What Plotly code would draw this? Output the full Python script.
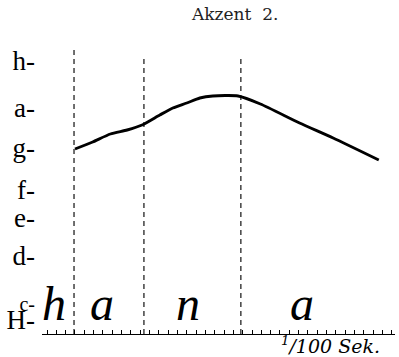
import plotly.graph_objects as go

# Zeit in 1/100 Sek., Tonhöhe als Lage auf der Notenskala
time = [3.0, 4.9, 6.8, 8.6, 10.2, 12.1, 13.5, 15.0, 16.4, 17.8, 20.5, 22.9, 27.1, 30.7, 35.6]
pitch = [185, 192, 200, 204, 209, 219, 226, 231, 236, 238, 238, 230, 211, 196, 174]

# Lautgrenzen (gestrichelt) und ihre obere Kante
boundaries = [2.9, 10.4, 20.8]
boundary_top = [287, 279, 276]

# Tonstufen an der y-Achse
note_names = ["H-", "c-", "d-", "e-", "f-", "g-", "a-", "h-"]
note_levels = [14, 32, 78, 116, 144, 186, 226, 273]

# Laute unter der Kurve
sounds = ["h", "a", "n", "a"]
sound_x = [0.75, 5.9, 15.1, 27.4]
sound_y = 31

fig = go.Figure()

for b, top in zip(boundaries, boundary_top):
    fig.add_trace(go.Scatter(
        x=[b, b], y=[0, top], mode="lines",
        line=dict(color="#333333", width=1.4, dash="5px,4px"),
        showlegend=False, hoverinfo="skip",
    ))

fig.add_trace(go.Scatter(
    x=time, y=pitch, mode="lines",
    line=dict(color="black", width=2.9, shape="spline", smoothing=0.6),
    showlegend=False,
))

for s, sx in zip(sounds, sound_x):
    fig.add_annotation(
        x=sx, y=sound_y, text=s, showarrow=False,
        font=dict(family="Liberation Serif", size=48, color="black", style="italic"),
    )

fig.add_annotation(
    xref="paper", yref="paper", x=0.544, y=1.0, yanchor="middle",
    text="Akzent  2.", showarrow=False,
    font=dict(family="DejaVu Serif", size=17, color="#222222"),
    yshift=-14,
)

fig.add_annotation(
    x=30.4, y=0, yshift=-11, text="<sup>1</sup>/100 Sek.", showarrow=False,
    font=dict(family="DejaVu Serif", size=19, color="black", style="italic"),
)

# das kleine c steht im Original etwas zurück
tick_text = [f"<span style='font-size:20px'>{t}</span>" if t == "c-" else t
             for t in note_names]

fig.update_layout(
    width=399, height=357, autosize=False,
    margin=dict(l=42, r=4, t=0, b=23),
    plot_bgcolor="white", paper_bgcolor="white",
    xaxis=dict(
        range=[-0.536, 37.34], showgrid=False, zeroline=False,
        showline=True, linecolor="black", linewidth=1.4,
        ticks="inside", ticklen=4, tickcolor="black", tickwidth=1.1,
        tick0=0, dtick=1, showticklabels=False,
    ),
    yaxis=dict(
        range=[0, 334], showgrid=False, zeroline=False, showline=False,
        tickvals=note_levels, ticktext=tick_text, ticks="",
        tickfont=dict(family="Liberation Serif", size=27, color="black"),
        ticklabelstandoff=6,
    ),
)

fig.write_html("out.html", config={"displayModeBar": False},
               post_script="document.body.style.margin='0';")
